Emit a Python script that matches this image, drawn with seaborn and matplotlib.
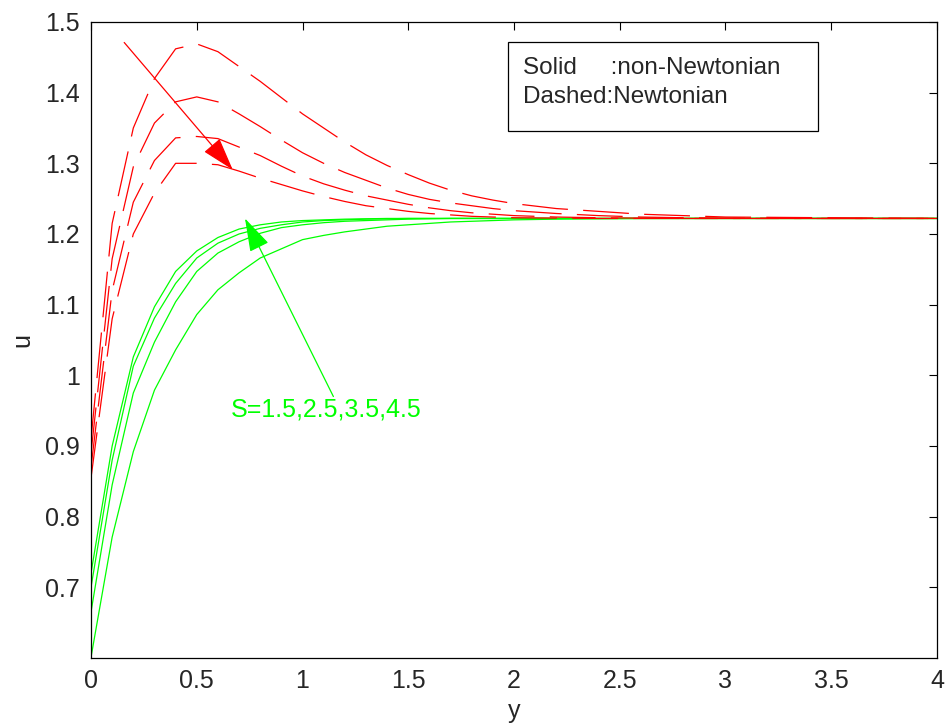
import numpy as np
import pandas as pd
import matplotlib
matplotlib.use("Agg")
import matplotlib.pyplot as plt
import seaborn as sns
from matplotlib.patches import Rectangle
from matplotlib.ticker import FuncFormatter

sns.set_style("white")
plt.rcParams['font.family'] = ['Liberation Sans', 'DejaVu Sans']
plt.rcParams['lines.scale_dashes'] = False

# grid of y (horizontal axis)
y_vals = [0, 0.1, 0.2, 0.3, 0.4, 0.5, 0.6, 0.7, 0.8, 0.9, 1.0, 1.1, 1.2, 1.3,
          1.4, 1.5, 1.6, 1.7, 1.8, 1.9, 2.0, 2.2, 2.4, 2.6, 2.8, 3.0, 3.5, 4.0]

# solid: non-Newtonian
u_solid_1 = [0.72, 0.90, 1.026, 1.097, 1.147, 1.176, 1.195, 1.207, 1.213, 1.217,
             1.219, 1.220, 1.221, 1.2215, 1.222, 1.222, 1.222, 1.222, 1.222, 1.222,
             1.222, 1.222, 1.222, 1.222, 1.222, 1.222, 1.222, 1.222]
u_solid_2 = [0.70, 0.88, 1.013, 1.081, 1.130, 1.166, 1.187, 1.200, 1.208, 1.213,
             1.217, 1.219, 1.220, 1.221, 1.2215, 1.222, 1.222, 1.222, 1.222, 1.222,
             1.222, 1.222, 1.222, 1.222, 1.222, 1.222, 1.222, 1.222]
u_solid_3 = [0.665, 0.845, 0.975, 1.047, 1.104, 1.147, 1.173, 1.189, 1.201, 1.209,
             1.213, 1.216, 1.218, 1.219, 1.220, 1.221, 1.2215, 1.222, 1.222, 1.222,
             1.222, 1.222, 1.222, 1.222, 1.222, 1.222, 1.222, 1.222]
u_solid_4 = [0.601, 0.771, 0.892, 0.979, 1.036, 1.086, 1.121, 1.145, 1.166, 1.179,
             1.192, 1.198, 1.203, 1.207, 1.211, 1.213, 1.215, 1.217, 1.218, 1.219,
             1.220, 1.221, 1.2215, 1.222, 1.222, 1.222, 1.222, 1.222]

# dashed: Newtonian
u_dash_1 = [0.91, 1.215, 1.35, 1.42, 1.462, 1.469, 1.458, 1.437, 1.416, 1.393,
            1.370, 1.350, 1.330, 1.312, 1.297, 1.284, 1.272, 1.262, 1.254, 1.248,
            1.243, 1.236, 1.232, 1.228, 1.226, 1.224, 1.223, 1.222]
u_dash_2 = [0.89, 1.165, 1.295, 1.357, 1.387, 1.394, 1.387, 1.370, 1.352, 1.333,
            1.315, 1.300, 1.287, 1.276, 1.265, 1.256, 1.249, 1.244, 1.240, 1.236,
            1.233, 1.229, 1.226, 1.224, 1.223, 1.2225, 1.222, 1.222]
u_dash_3 = [0.87, 1.12, 1.245, 1.304, 1.336, 1.338, 1.335, 1.323, 1.311, 1.296,
            1.282, 1.271, 1.262, 1.254, 1.248, 1.242, 1.237, 1.233, 1.230, 1.228,
            1.226, 1.224, 1.223, 1.2225, 1.222, 1.222, 1.222, 1.222]
u_dash_4 = [0.855, 1.08, 1.20, 1.258, 1.300, 1.300, 1.298, 1.289, 1.279, 1.270,
            1.261, 1.253, 1.246, 1.240, 1.236, 1.232, 1.229, 1.227, 1.225, 1.224,
            1.223, 1.2225, 1.222, 1.222, 1.222, 1.222, 1.222, 1.222]

x_ticks = [0, 0.5, 1, 1.5, 2, 2.5, 3, 3.5, 4]
u_ticks = [0.7, 0.8, 0.9, 1.0, 1.1, 1.2, 1.3, 1.4, 1.5]

fig = plt.figure(figsize=(9.5, 7.26), dpi=100)
ax = fig.add_axes([0.0958, 0.0937, 0.8905, 0.876])

for u in [u_solid_1, u_solid_2, u_solid_3, u_solid_4]:
    sns.lineplot(x=y_vals, y=u, ax=ax, color='#00ff00', linewidth=0.9)
for u in [u_dash_1, u_dash_2, u_dash_3, u_dash_4]:
    sns.lineplot(x=y_vals, y=u, ax=ax, color='#ff0000', linewidth=0.9,
                 linestyle=(0, (33, 11)))

ax.set_xlim(0, 4)
ax.set_ylim(0.6, 1.5)
ax.set_xticks(x_ticks)
ax.set_yticks(u_ticks)
fmt = FuncFormatter(lambda v, p: '%g' % round(v, 2))
ax.xaxis.set_major_formatter(fmt)
ax.yaxis.set_major_formatter(fmt)
ax.tick_params(direction='in', top=True, right=True, length=6, width=0.8,
               labelsize=18, pad=8, color='black')
for s in ax.spines.values():
    s.set_color('black')
    s.set_linewidth(0.9)
ax.set_xlabel('y', fontsize=18, labelpad=4)
ax.set_ylabel('u', fontsize=18, labelpad=8)

# arrows and labels
ax.annotate('', xy=(0.67, 1.291), xytext=(0.157, 1.471),
            arrowprops=dict(arrowstyle='-|>,head_length=2.1,head_width=0.65',
                            mutation_scale=10, color='#ff0000', lw=0.9,
                            shrinkA=0, shrinkB=0))
ax.annotate('', xy=(0.728, 1.222), xytext=(1.146, 0.970),
            arrowprops=dict(arrowstyle='-|>,head_length=2.1,head_width=0.65',
                            mutation_scale=10, color='#00ff00', lw=0.9,
                            shrinkA=0, shrinkB=0))
ax.text(0.66, 0.951, 'S=1.5,2.5,3.5,4.5', color='#00ff00', fontsize=18,
        va='center', ha='left')

# text box
fig.patches.append(Rectangle((0.5347, 0.8196), 0.3263, 0.1226, transform=fig.transFigure,
                             fill=False, edgecolor='black', linewidth=0.9))
fig.text(0.5505, 0.9065, 'Solid     :non-Newtonian', fontsize=17.5, va='center', ha='left')
fig.text(0.5505, 0.8660, 'Dashed:Newtonian', fontsize=17.5, va='center', ha='left')

fig.savefig('out.png', dpi=100)
